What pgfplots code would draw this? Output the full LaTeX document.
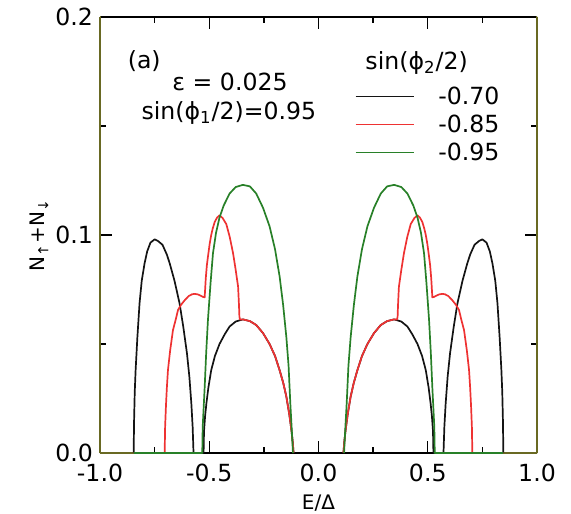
\documentclass[border=0pt]{standalone}
\usepackage{fontspec}
\setmainfont{DejaVu Sans}
\usepackage{pgfplots}
\pgfplotsset{compat=1.18}
\definecolor{cblack}{RGB}{20,20,20}
\definecolor{cred}{RGB}{238,50,50}
\definecolor{cgreen}{RGB}{40,128,40}
\definecolor{colive}{RGB}{105,105,35}
\newcommand{\fs}{\fontsize{11.8}{14}\selectfont}
\begin{document}
\begin{tikzpicture}
\path[use as bounding box] (-50pt,-30pt) rectangle (235.5pt,226.5pt);
\begin{axis}[
  at={(0,0)}, anchor=south west,
  scale only axis, width=218.5pt, height=218pt,
  xmin=-1, xmax=1, ymin=0, ymax=0.2,
  xtick={-1,-0.5,0,0.5,1},
  xticklabels={-1.0,-0.5,0.0,0.5,1.0},
  minor xtick={-0.75,-0.25,0.25,0.75},
  ytick={0,0.1,0.2},
  yticklabels={0.0,0.1,0.2},
  minor ytick={0.05,0.15},
  tick align=inside,
  major tick length=6pt, minor tick length=3pt,
  tick style={line width=0.7pt, black},
  separate axis lines,
  axis line style={line width=0.8pt},
  x axis line style={black, line width=0.8pt},
  y axis line style={colive, line width=1.3pt},
  tick label style={font=\fs},
  xticklabel style={yshift=-2pt},
  label style={font=\fs},
  xlabel={E/Δ},
  ylabel={N\textsubscript{↑}+N\textsubscript{↓}},
  every axis x label/.style={at={(axis description cs:0.5,-0.1307)}, anchor=base},
  every axis y label/.style={at={(axis description cs:-0.126,0.5)}, rotate=90, anchor=base},
  unbounded coords=jump,
  legend style={draw=none, fill=none, font=\fs, at={(rel axis cs:0.582,0.847)}, anchor=north west,
    row sep=1.6pt, inner sep=0pt, nodes={inner sep=2pt, text height=8.4pt, text depth=0pt}},
  legend cell align=left,
  legend image code/.code={\draw[#1] (0pt,0pt) -- (29pt,0pt); \path (39pt,0pt);},
  every axis plot/.append style={line width=0.85pt, line join=round},
]
% divergence at the gap edges
\addplot[colive, forget plot] coordinates {(-1,0.3) (-1,0) (-0.846,0) (nan,nan) (0.846,0) (1,0) (1,0.3)};
% sin(phi2/2) = -0.70
\addplot[cblack] coordinates {
(-0.846,0) (-0.844,0.015) (-0.841,0.028) (-0.837,0.038) (-0.829,0.053) (-0.819,0.0687) (-0.809,0.079) (-0.796,0.087) (-0.784,0.0925) (-0.769,0.0965) (-0.750,0.098) (-0.734,0.0972) (-0.714,0.0955) (-0.694,0.091) (-0.681,0.087) (-0.659,0.079) (-0.636,0.0687) (-0.619,0.058) (-0.602,0.0457) (-0.591,0.035) (-0.582,0.0228) (-0.576,0.012) (-0.572,0)
(-0.526,0) (-0.524,0.010) (-0.519,0.017) (-0.513,0.0228) (-0.504,0.030) (-0.491,0.038) (-0.474,0.0445) (-0.453,0.050) (-0.429,0.0545) (-0.407,0.058) (-0.379,0.0603) (-0.346,0.0613) (-0.314,0.0605) (-0.285,0.0587) (-0.254,0.055) (-0.224,0.050) (-0.199,0.0445) (-0.178,0.038) (-0.161,0.032) (-0.147,0.0258) (-0.134,0.018) (-0.124,0.0106) (-0.118,0.005) (-0.114,0)
(nan,nan)
(0.114,0) (0.118,0.005) (0.124,0.0106) (0.134,0.018) (0.147,0.0258) (0.161,0.032) (0.178,0.038) (0.199,0.0445) (0.224,0.050) (0.254,0.055) (0.285,0.0587) (0.314,0.0605) (0.346,0.0613) (0.379,0.0603) (0.407,0.058) (0.429,0.0545) (0.453,0.050) (0.474,0.0445) (0.491,0.038) (0.504,0.030) (0.513,0.0228) (0.519,0.017) (0.524,0.010) (0.526,0)
(0.572,0) (0.576,0.012) (0.582,0.0228) (0.591,0.035) (0.602,0.0457) (0.619,0.058) (0.636,0.0687) (0.659,0.079) (0.681,0.087) (0.694,0.091) (0.714,0.0955) (0.734,0.0972) (0.750,0.098) (0.769,0.0965) (0.784,0.0925) (0.796,0.087) (0.809,0.079) (0.819,0.0687) (0.829,0.053) (0.837,0.038) (0.841,0.028) (0.844,0.015) (0.846,0)
};
\addlegendentry{-0.70}
% sin(phi2/2) = -0.85
\addplot[cred] coordinates {
(-0.846,0) (-0.704,0) (-0.702,0.012) (-0.698,0.022) (-0.694,0.030) (-0.689,0.038) (-0.679,0.047) (-0.666,0.0564) (-0.654,0.061) (-0.643,0.0656) (-0.629,0.068) (-0.613,0.070) (-0.594,0.0720) (-0.579,0.0728) (-0.567,0.073) (-0.554,0.0728) (-0.544,0.0724) (-0.536,0.072) (-0.529,0.0716) (-0.521,0.0714)
(-0.516,0.080) (-0.511,0.086) (-0.506,0.090) (-0.498,0.096) (-0.491,0.100) (-0.484,0.103) (-0.475,0.106) (-0.464,0.108) (-0.453,0.109) (-0.439,0.1078) (-0.422,0.105) (-0.406,0.099) (-0.391,0.0916) (-0.379,0.084) (-0.368,0.0763) (-0.364,0.068) (-0.362,0.0625) (-0.359,0.0612)
(-0.346,0.0613) (-0.314,0.0605) (-0.285,0.0587) (-0.254,0.055) (-0.224,0.050) (-0.199,0.0445) (-0.178,0.038) (-0.161,0.032) (-0.147,0.0258) (-0.134,0.018) (-0.124,0.0106) (-0.118,0.005) (-0.114,0)
(nan,nan)
(0.114,0) (0.118,0.005) (0.124,0.0106) (0.134,0.018) (0.147,0.0258) (0.161,0.032) (0.178,0.038) (0.199,0.0445) (0.224,0.050) (0.254,0.055) (0.285,0.0587) (0.314,0.0605) (0.346,0.0613)
(0.359,0.0612) (0.362,0.0625) (0.364,0.068) (0.368,0.0763) (0.379,0.084) (0.391,0.0916) (0.406,0.099) (0.422,0.105) (0.439,0.1078) (0.453,0.109) (0.464,0.108) (0.475,0.106) (0.484,0.103) (0.491,0.100) (0.498,0.096) (0.506,0.090) (0.511,0.086) (0.516,0.080)
(0.521,0.0714) (0.529,0.0716) (0.536,0.072) (0.544,0.0724) (0.554,0.0728) (0.567,0.073) (0.579,0.0728) (0.594,0.0720) (0.613,0.070) (0.629,0.068) (0.643,0.0656) (0.654,0.061) (0.666,0.0564) (0.679,0.047) (0.689,0.038) (0.694,0.030) (0.698,0.022) (0.702,0.012) (0.704,0) (0.846,0)
};
\addlegendentry{-0.85}
% sin(phi2/2) = -0.95
\addplot[cgreen] coordinates {
(-0.846,0) (-0.532,0) (-0.530,0.012) (-0.526,0.020) (-0.521,0.030) (-0.514,0.046) (-0.506,0.061) (-0.494,0.078) (-0.483,0.0916) (-0.469,0.101) (-0.453,0.108) (-0.434,0.1135) (-0.407,0.119) (-0.379,0.122) (-0.346,0.123) (-0.314,0.1223) (-0.285,0.119) (-0.254,0.1125) (-0.224,0.104) (-0.199,0.0935) (-0.178,0.081) (-0.162,0.068) (-0.147,0.053) (-0.137,0.040) (-0.129,0.0228) (-0.122,0.010) (-0.117,0)
(nan,nan)
(0.117,0) (0.122,0.010) (0.129,0.0228) (0.137,0.040) (0.147,0.053) (0.162,0.068) (0.178,0.081) (0.199,0.0935) (0.224,0.104) (0.254,0.1125) (0.285,0.119) (0.314,0.1223) (0.346,0.123) (0.379,0.122) (0.407,0.119) (0.434,0.1135) (0.453,0.108) (0.469,0.101) (0.483,0.0916) (0.494,0.078) (0.506,0.061) (0.514,0.046) (0.521,0.030) (0.526,0.020) (0.530,0.012) (0.532,0) (0.846,0)
};
\addlegendentry{-0.95}
\node[font=\fs, anchor=base west] at (axis cs:-0.905,0.1766) {(a)};
\node[font=\fs, anchor=base] at (axis cs:-0.405,0.1661) {ε = 0.025};
\node[font=\fs, anchor=base] at (axis cs:-0.410,0.1528) {sin(ϕ\textsubscript{1}/2)=0.95};
\node[font=\fs, anchor=base] at (axis cs:0.449,0.176) {sin(ϕ\textsubscript{2}/2)};
\end{axis}
\end{tikzpicture}
\end{document}
